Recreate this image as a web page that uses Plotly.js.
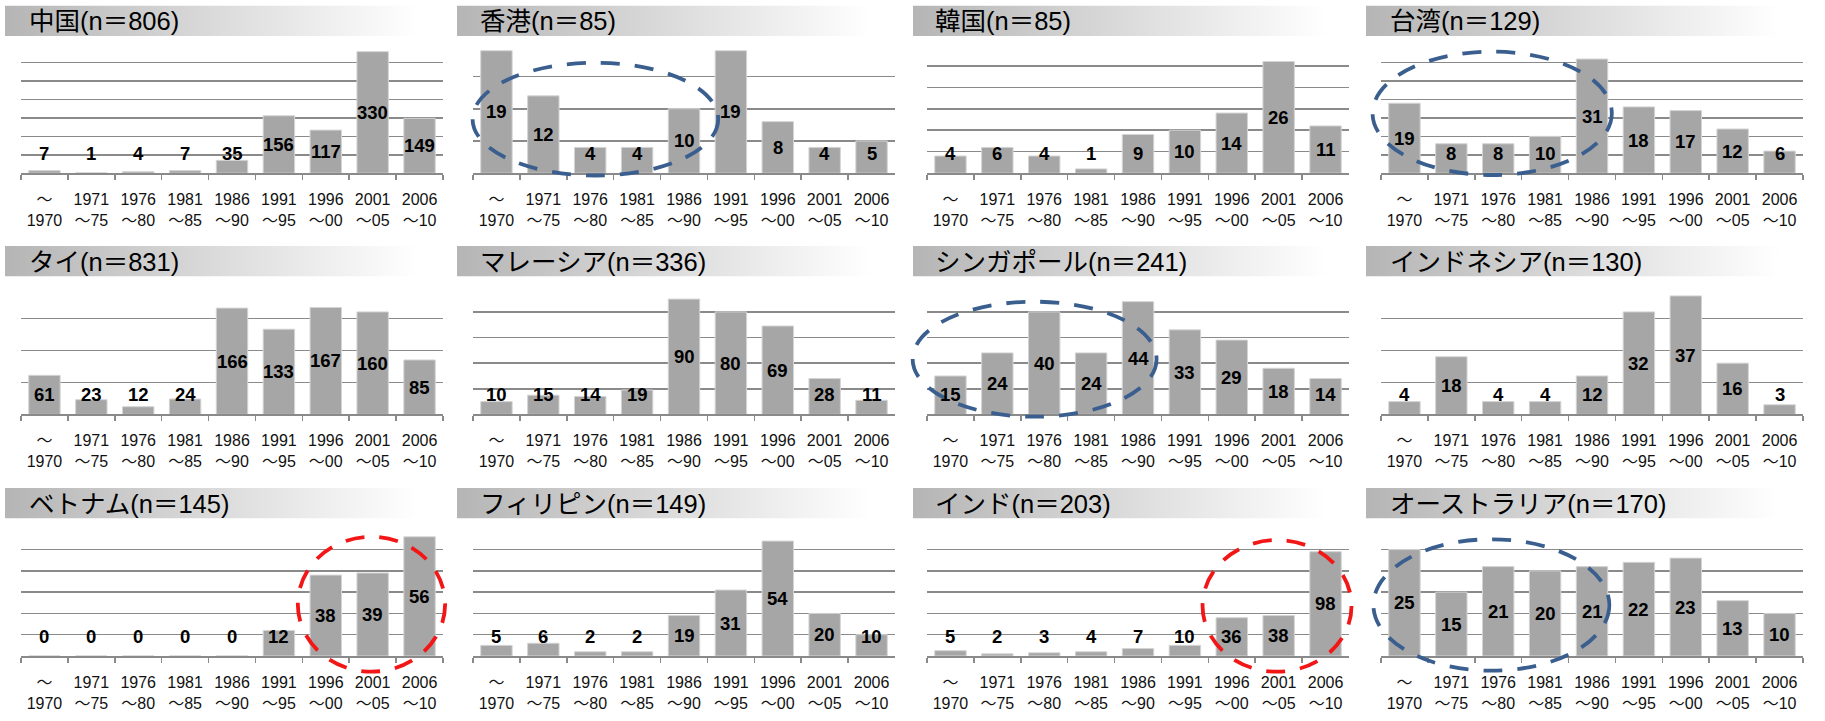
<!DOCTYPE html>
<html>
<head>
<meta charset="utf-8">
<script src="https://cdn.plot.ly/plotly-3.0.1.min.js"></script>
<style>
  html, body { margin: 0; padding: 0; background: #ffffff; }
  #chart { width: 1825px; height: 721px; }
</style>
</head>
<body>
<div id="chart"></div>
<script>
// Period categories (five-year bins)
const periods = ["～<br>1970", "1971<br>～75", "1976<br>～80", "1981<br>～85", "1986<br>～90",
                 "1991<br>～95", "1996<br>～00", "2001<br>～05", "2006<br>～10"];

// Country / region names, in panel order (left to right, top to bottom)
const countries = ["中国", "香港", "韓国", "台湾",
                   "タイ", "マレーシア", "シンガポール", "インドネシア",
                   "ベトナム", "フィリピン", "インド", "オーストラリア"];

// Counts per period
const china       = [7, 1, 4, 7, 35, 156, 117, 330, 149];
const hongKong    = [19, 12, 4, 4, 10, 19, 8, 4, 5];
const korea       = [4, 6, 4, 1, 9, 10, 14, 26, 11];
const taiwan      = [19, 8, 8, 10, 31, 18, 17, 12, 6];
const thailand    = [61, 23, 12, 24, 166, 133, 167, 160, 85];
const malaysia    = [10, 15, 14, 19, 90, 80, 69, 28, 11];
const singapore   = [15, 24, 40, 24, 44, 33, 29, 18, 14];
const indonesia   = [4, 18, 4, 4, 12, 32, 37, 16, 3];
const vietnam     = [0, 0, 0, 0, 0, 12, 38, 39, 56];
const philippines = [5, 6, 2, 2, 19, 31, 54, 20, 10];
const india       = [5, 2, 3, 4, 7, 10, 36, 38, 98];
const australia   = [25, 15, 21, 20, 21, 22, 23, 13, 10];

const series = [china, hongKong, korea, taiwan, thailand, malaysia,
                singapore, indonesia, vietnam, philippines, india, australia];

// Value-axis maximum and gridline step of each panel
const yMax  = [350, 20, 30, 35, 200, 100, 50, 40, 60, 60, 120, 30];
const yStep = [50, 5, 5, 5, 50, 20, 10, 10, 10, 10, 20, 5];

// ---- page geometry (pixels) ----
const W = 1825, H = 721;
const plotLeft = [21, 473, 927, 1381];
const plotW = 422;
const rowTop  = [44.3, 286.3, 528.3];
const rowBase = [173.2, 414.4, 656];
const bandLeft = [5, 457, 913, 1366];
const bandW = 445;
const bandTop = [5.5, 246, 488];
const bandH = 30.5;
const titleX = [27, 478, 933, 1388];

const GRID = "#8a8a8a";
const FONT = "Liberation Sans, Arial, Noto Sans CJK JP, sans-serif";

// Dashed ellipses marking groups of bars (in each panel's domain fractions)
const BLUE = "#3a5f8f", RED = "#f21616";
const rings = [
  { panel: 1,  x0: -0.001, x1: 0.581, y0: -0.018, y1: 0.857, color: BLUE },
  { panel: 3,  x0: -0.020, x1: 0.547, y0: -0.014, y1: 0.943, color: BLUE },
  { panel: 6,  x0: -0.034, x1: 0.544, y0: -0.018, y1: 0.880, color: BLUE },
  { panel: 8,  x0: 0.656,  x1: 1.005, y0: -0.123, y1: 0.934, color: RED },
  { panel: 10, x0: 0.653,  x1: 1.006, y0: -0.123, y1: 0.908, color: RED },
  { panel: 11, x0: -0.018, x1: 0.541, y0: -0.115, y1: 0.914, color: BLUE }
];

function bandImage() {
  const svg = "<svg xmlns='http://www.w3.org/2000/svg' width='445' height='30' viewBox='0 0 445 30' preserveAspectRatio='none'>" +
    "<defs><linearGradient id='g' x1='0' x2='1' y1='0' y2='0'>" +
    "<stop offset='0' stop-color='#b5b5b5'/><stop offset='0.93' stop-color='#ffffff'/></linearGradient></defs>" +
    "<rect width='445' height='30' fill='url(#g)'/></svg>";
  return "data:image/svg+xml;charset=utf-8," + encodeURIComponent(svg);
}

const traces = [];
const layout = {
  width: W, height: H,
  margin: { l: 0, r: 0, t: 0, b: 0 },
  paper_bgcolor: "#ffffff",
  plot_bgcolor: "rgba(0,0,0,0)",
  showlegend: false,
  bargap: 0.33,
  hovermode: false,
  font: { family: FONT, color: "#000000" },
  annotations: [],
  shapes: [],
  images: []
};

const band = bandImage();

series.forEach((vals, i) => {
  const row = Math.floor(i / 4), col = i % 4;
  const n = i === 0 ? "" : String(i + 1);
  const xa = "x" + n, ya = "y" + n;

  traces.push({
    type: "bar",
    x: periods,
    y: vals,
    xaxis: xa, yaxis: ya,
    marker: { color: "#a6a6a6", line: { color: "#d4d4d4", width: 1 } },
    hoverinfo: "skip"
  });

  layout["xaxis" + n] = {
    domain: [plotLeft[col] / W, (plotLeft[col] + plotW) / W],
    anchor: ya,
    type: "category",
    range: [-0.5, 8.5],
    showgrid: false,
    zeroline: false,
    showline: true, linecolor: GRID, linewidth: 1.5,
    ticks: "outside", tickson: "boundaries", ticklen: 5, tickwidth: 1.5, tickcolor: GRID,
    tickfont: { family: FONT, size: 16, color: "#111111" },
    ticklabelstandoff: 11,
    tickangle: 0,
    fixedrange: true
  };
  layout["yaxis" + n] = {
    domain: [1 - rowBase[row] / H, 1 - rowTop[row] / H],
    anchor: xa,
    range: [0, yMax[i]],
    dtick: yStep[i], tick0: 0,
    showgrid: true, gridcolor: GRID, gridwidth: 1.5,
    zeroline: false, showline: false,
    showticklabels: false, ticks: "",
    fixedrange: true
  };

  // value labels: centred in the bar, kept clear of the baseline
  vals.forEach((v, k) => {
    layout.annotations.push({
      xref: xa, yref: ya,
      x: periods[k], y: Math.max(v / 2, 0.155 * yMax[i]),
      text: "<b>" + v + "</b>",
      showarrow: false,
      xanchor: "center", yanchor: "middle",
      font: { family: FONT, size: 18.5, color: "#000000" }
    });
  });

  // title band with left-to-right grey fade
  layout.images.push({
    source: band,
    xref: "paper", yref: "paper",
    x: bandLeft[col] / W, y: 1 - bandTop[row] / H,
    sizex: bandW / W, sizey: bandH / H,
    xanchor: "left", yanchor: "top",
    sizing: "stretch", layer: "below"
  });

  const total = vals.reduce((a, b) => a + b, 0);
  layout.annotations.push({
    xref: "paper", yref: "paper",
    x: titleX[col] / W, y: 1 - (bandTop[row] + bandH / 2 + 0.5) / H,
    xanchor: "left", yanchor: "middle",
    text: countries[i] + "(n＝" + total + ")",
    showarrow: false,
    font: { family: FONT, size: 25.5, color: "#000000" }
  });
});

rings.forEach(r => {
  const n = r.panel === 0 ? "" : String(r.panel + 1);
  layout.shapes.push({
    type: "circle",
    xref: "x" + n + " domain", yref: "y" + n + " domain",
    x0: r.x0, x1: r.x1, y0: r.y0, y1: r.y1,
    line: { color: r.color, width: 3.8, dash: "19px,15px" },
    fillcolor: "rgba(0,0,0,0)",
    layer: "above"
  });
});

Plotly.newPlot("chart", traces, layout, { staticPlot: true, displayModeBar: false });
</script>
</body>
</html>
